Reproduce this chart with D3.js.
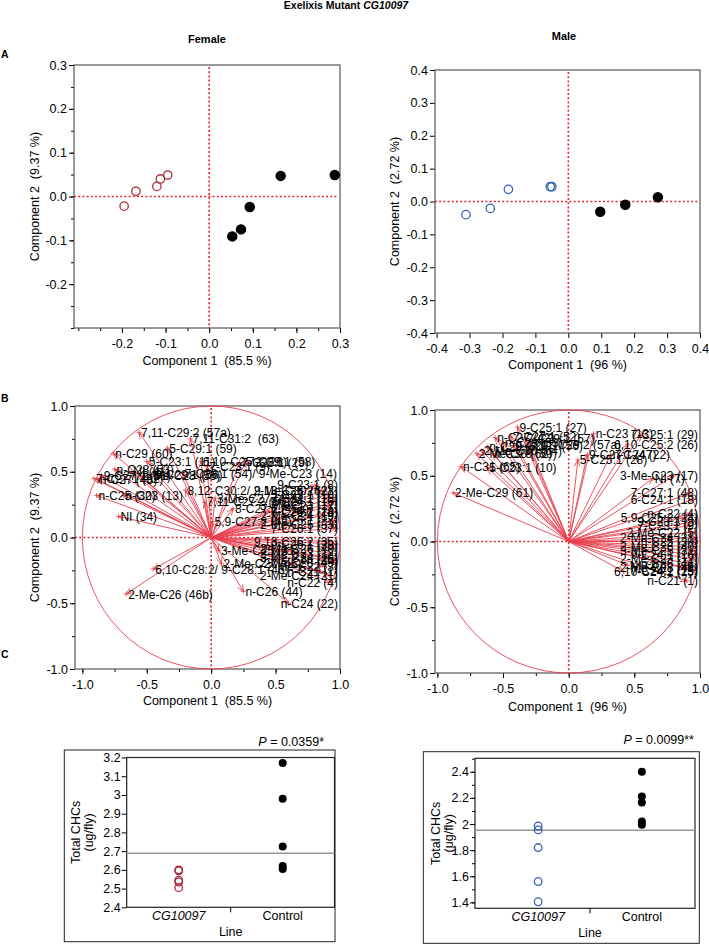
<!DOCTYPE html>
<html><head><meta charset="utf-8">
<script src="https://cdn.jsdelivr.net/npm/d3@7"></script>
<style>
body{margin:0;background:#fff}
svg{display:block}
text{font-family:"Liberation Sans",Arial,sans-serif;white-space:pre}
</style>
</head><body>
<script>
// ---------------- DATA ----------------
// Panel A: PCA scores
const femaleMutantPC1 = [-0.195, -0.168, -0.120, -0.112, -0.095];
const femaleMutantPC2 = [-0.022, 0.012, 0.023, 0.040, 0.049];
const femaleControlPC1 = [0.053, 0.073, 0.093, 0.164, 0.288];
const femaleControlPC2 = [-0.091, -0.075, -0.024, 0.047, 0.049];
const maleMutantPC1 = [-0.311, -0.237, -0.182, -0.055, -0.050];
const maleMutantPC2 = [-0.040, -0.021, 0.037, 0.045, 0.045];
const maleControlPC1 = [0.097, 0.173, 0.272];
const maleControlPC2 = [-0.031, -0.010, 0.013];

// Panel B: loadings
const femaleLoadingNames = [
 "7,11-C29:2 (57a)","7,11-C31:2  (63)","5-C29:1 (59)","n-C29 (60)","5-C23:1 (11)","6,10-C25:2 (26)",
 "7-C23:1 (9)","7-C25:1 (29)","7-C29:1 (58)","7-C28:1 (54)/ 9-Me-C23 (14)","n-C28 (53)","9-C27:1 (51)",
 "7-C27:1 (52)","n-C27 (48)","NI (41)","2-Me-C28 (55)","9-C29:1 (56)","8,12-C30:2/ 2-Me-C30 (62)",
 "n-C25 (30)","n-C23 (13)","NI (34)","7,11-C27:2 (50)","3-Me-C27 (45a)","8-C27:1 (46a)","5,9-C27:2 (43)",
 "9-C23:1 (8)","9,13-C25:2 (23)","5-C23:1 (10)","7-C24:1 (15)","9-C24:1 (16)","3-Me-C23 (17)",
 "6-C24:1 (18)","2-Me-C24 (19)","9-C25:1 (27)","2-Me-C25 (33)","7-C26:1 (37)","7-C25:2 (24)",
 "9,13-C26:2 (35)","9-C26:1 (38)","2-Me-C26 (40)","3-Me-C25 (31)","2-Me-C23 (12)","3-Me-C24 (20)",
 "NI (25)","2-Me-C28 (49)","2-Me-C27 (45)","6,10-C28:2/ 9-C28:1 (46)","2-Me-C22 (3)","n-C21 (1)",
 "2-Me-C24 (21)","n-C22 (4)","n-C26 (44)","n-C24 (22)","2-Me-C26 (46b)"
];
const femaleLoadingX = [
 -0.56,-0.16,-0.34,-0.76,-0.50,-0.08,
 -0.03,0.22,0.27,-0.22,-0.75,-0.85,
 -0.91,-0.88,-0.62,-0.55,-0.45,-0.20,
 -0.89,-0.68,-0.72,-0.05,0.03,0.17,0.01,
 0.82,0.86,0.90,0.93,0.95,0.92,
 0.95,0.88,0.96,0.95,0.97,0.45,
 0.93,0.97,0.95,0.06,0.93,0.90,
 0.96,0.95,0.08,-0.45,0.88,0.85,
 0.92,0.93,0.25,0.60,-0.66
];
const femaleLoadingY = [
 0.80,0.75,0.68,0.64,0.58,0.58,
 0.54,0.57,0.58,0.49,0.52,0.47,
 0.45,0.44,0.50,0.47,0.48,0.36,
 0.32,0.32,0.16,0.27,0.30,0.22,0.12,
 0.40,0.36,0.33,0.30,0.27,0.24,
 0.20,0.17,0.13,0.10,0.07,0.20,
 -0.03,-0.05,-0.08,-0.10,-0.12,-0.15,
 -0.17,-0.19,-0.20,-0.24,-0.22,-0.26,
 -0.29,-0.34,-0.41,-0.50,-0.43
];
const maleLoadingNames = [
 "9-C25:1 (27)","n-C27 (42)","7-C27:1 (52)","7-C29:1 (57)","n-C28 (53)","9-C29:1 (56)","n-C29 (60)",
 "2-Me-C28 (50)","n-C30 (62)","n-C31 (65)","5-C23:1 (10)","2-Me-C29 (61)","2-Me-C30 (64)","7,11-C29:2 (57a)",
 "n-C23 (13)","7-C25:1 (29)","6,10-C25:2 (26)","9-C27:1 (47)","n-C24 (22)","5-C25:1 (28)",
 "3-Me-C23 (17)","NI (7)","7-C27:1 (48)","6-C24:1 (18)","n-C22 (4)","5,9-C25:2 (24)","9-C23:1 (8)",
 "7-C23:1 (9)","2-Me-C22 (5)","2-Me-C24 (21)","n-C25 (30)","2-Me-C26 (40)","3-Me-C25 (31)","9-C24:1 (16)",
 "2-Me-C23 (12)","n-C26 (44)","NI (20)","2-Me-C28 (49)","6,10-C24:2 (25)","7-C24:1 (15)","n-C21 (1)"
];
const maleLoadingX = [
 -0.39,-0.56,-0.44,-0.33,-0.50,-0.42,-0.62,
 -0.70,-0.58,-0.82,-0.62,-0.88,-0.66,-0.30,
 0.19,0.55,0.45,0.14,0.32,0.07,
 0.80,0.64,0.92,0.95,0.93,0.88,0.95,
 0.92,0.96,0.97,0.98,0.97,0.96,0.97,
 0.95,0.93,0.45,0.90,0.42,0.96,0.90
];
const maleLoadingY = [
 0.87,0.79,0.80,0.78,0.75,0.73,0.72,
 0.67,0.67,0.57,0.56,0.37,0.69,0.74,
 0.82,0.81,0.74,0.66,0.66,0.62,
 0.50,0.48,0.37,0.32,0.21,0.18,0.15,
 0.12,0.07,0.03,0.00,-0.04,-0.07,-0.10,
 -0.13,-0.17,-0.18,-0.20,-0.23,-0.22,-0.30
];

// Panel C: total CHCs (ug/fly)
const lines = ["CG10097", "Control"];
const femaleTotalMutant = [2.600, 2.595, 2.545, 2.535, 2.505];
const femaleTotalControl = [3.170, 2.980, 2.725, 2.620, 2.605];
const maleTotalMutant = [1.985, 1.955, 1.820, 1.560, 1.405];
const maleTotalControl = [2.400, 2.210, 2.165, 2.020, 1.995];
const femaleP = "0.0359*";
const maleP = "0.0099**";

// ---------------- STYLE ----------------
const RED_DOT = "#e3242f";
const ARROW = "#e8404e";
const FEMALE_COL = "#a82d38";
const MALE_COL = "#3560b5";

const W = 709, H = 945;
const svg = d3.select("body").append("svg").attr("width", W).attr("height", H);

const fmt1 = d => d3.format(".1f")(d).replace("\u2212", "-");
const fmtC = d => String(+d.toFixed(1));

function styleAxis(g, fs) {
  g.select(".domain").remove();
  g.selectAll("text").attr("font-size", fs).attr("fill", "#000")
    .attr("font-family", "Liberation Sans, Arial, sans-serif");
  g.selectAll("line").attr("stroke", "#000");
}

function framePanel(o) {
  const x = d3.scaleLinear().domain(o.xDomain).range([o.left, o.right]);
  const y = d3.scaleLinear().domain(o.yDomain).range([o.bottom, o.top]);
  const g = svg.append("g");
  // minor ticks
  if (o.xMinor) g.append("g").attr("transform", `translate(0,${o.bottom})`)
    .call(d3.axisBottom(x).tickValues(o.xMinor).tickSize(3).tickFormat("")).call(a => styleAxis(a, 12));
  if (o.yMinor) g.append("g").attr("transform", `translate(${o.left},0)`)
    .call(d3.axisLeft(y).tickValues(o.yMinor).tickSize(3).tickFormat("")).call(a => styleAxis(a, 12));
  g.append("g").attr("transform", `translate(0,${o.bottom})`)
    .call(d3.axisBottom(x).tickValues(o.xMajor).tickSize(5).tickPadding(6).tickFormat(fmt1)).call(a => styleAxis(a, 12.5));
  g.append("g").attr("transform", `translate(${o.left},0)`)
    .call(d3.axisLeft(y).tickValues(o.yMajor).tickSize(5).tickPadding(2).tickFormat(fmt1)).call(a => styleAxis(a, 12.5));
  g.append("rect").attr("x", o.left).attr("y", o.top).attr("width", o.right - o.left).attr("height", o.bottom - o.top)
    .attr("fill", "none").attr("stroke", "#555").attr("stroke-width", 1.2);
  // reference dotted lines
  g.append("line").attr("x1", x(0)).attr("x2", x(0)).attr("y1", o.top + 2).attr("y2", o.bottom)
    .attr("stroke", RED_DOT).attr("stroke-width", 1.6).attr("stroke-dasharray", "2,2.2");
  g.append("line").attr("x1", o.left).attr("x2", o.right - 2).attr("y1", y(0)).attr("y2", y(0))
    .attr("stroke", RED_DOT).attr("stroke-width", 1.6).attr("stroke-dasharray", "2,2.2");
  // titles
  g.append("text").attr("x", (o.left + o.right) / 2).attr("y", o.xTitleY).attr("text-anchor", "middle")
    .attr("font-size", 12.5).text(o.xTitle);
  g.append("text").attr("transform", `translate(${o.yTitleX},${(o.top + o.bottom) / 2}) rotate(-90)`)
    .attr("text-anchor", "middle").attr("dy", "0.35em").attr("font-size", 12.5).text(o.yTitle);
  return {x, y, g};
}

function scores(p, xs, ys, color, filled) {
  p.g.append("g").selectAll("circle").data(xs).join("circle")
    .attr("cx", d => p.x(d)).attr("cy", (d, i) => p.y(ys[i])).attr("r", filled ? 4.6 : 4.2)
    .attr("fill", filled ? "#000" : "none").attr("stroke", filled ? "#000" : color).attr("stroke-width", 1.3);
}

function loadings(p, names, xs, ys, right) {
  const ox = p.x(0), oy = p.y(0);
  p.g.append("ellipse").attr("cx", ox).attr("cy", oy)
    .attr("rx", p.x(1) - ox).attr("ry", oy - p.y(1))
    .attr("fill", "none").attr("stroke", ARROW).attr("stroke-width", 0.9);
  const ga = p.g.append("g").attr("stroke", ARROW).attr("stroke-width", 0.9).attr("fill", "none");
  const gt = p.g.append("g");
  names.forEach((nm, i) => {
    const tx = p.x(xs[i]), ty = p.y(ys[i]);
    const ang = Math.atan2(ty - oy, tx - ox), L = 7, a = 0.42;
    ga.append("line").attr("x1", ox).attr("y1", oy).attr("x2", tx).attr("y2", ty);
    ga.append("path").attr("d",
      `M${tx - L * Math.cos(ang - a)},${ty - L * Math.sin(ang - a)}L${tx},${ty}L${tx - L * Math.cos(ang + a)},${ty - L * Math.sin(ang + a)}`);
    ga.append("path").attr("d", `M${tx - 2.5},${ty}h5M${tx},${ty - 2.5}v5`).attr("stroke-width", 0.8);
    const t = gt.append("text").attr("x", tx + 2).attr("y", ty + 4.5).attr("font-size", 12).attr("fill", "#000").text(nm);
    const len = t.node().getComputedTextLength();
    if (tx + 2 + len > right - 2) t.attr("x", right - 2 - len);
  });
}

// ---------------- TITLES ----------------
const title = svg.append("text").attr("x", 346).attr("y", 9).attr("text-anchor", "middle")
  .attr("font-size", 10.5).attr("font-weight", "bold");
title.append("tspan").text("Exelixis Mutant ");
title.append("tspan").attr("font-style", "italic").text("CG10097");
svg.append("text").attr("x", 207).attr("y", 43).attr("text-anchor", "middle").attr("font-size", 11).attr("font-weight", "bold").text("Female");
svg.append("text").attr("x", 564).attr("y", 40).attr("text-anchor", "middle").attr("font-size", 11).attr("font-weight", "bold").text("Male");
[["A", 58], ["B", 402], ["C", 658]].forEach(([l, yy]) =>
  svg.append("text").attr("x", 1).attr("y", yy).attr("font-size", 10.5).attr("font-weight", "bold").text(l));

// ---------------- PANEL A ----------------
const range = (a, b, s) => d3.range(Math.round(a / s), Math.round(b / s) + 1).map(k => +(k * s).toFixed(3));
const fA = framePanel({left: 74, right: 340, top: 65, bottom: 328, xDomain: [-0.31, 0.3], yDomain: [-0.3, 0.3],
  xMajor: range(-0.2, 0.3, 0.1), yMajor: range(-0.2, 0.3, 0.1),
  xMinor: range(-0.3, 0.3, 0.05), yMinor: range(-0.3, 0.3, 0.05),
  xTitle: "Component 1  (85.5 %)", xTitleY: 365, yTitle: "Component 2  (9.37 %)", yTitleX: 35});
scores(fA, femaleMutantPC1, femaleMutantPC2, FEMALE_COL, false);
scores(fA, femaleControlPC1, femaleControlPC2, "#000", true);

const mA = framePanel({left: 435, right: 700, top: 70, bottom: 333, xDomain: [-0.405, 0.4], yDomain: [-0.4, 0.4],
  xMajor: range(-0.4, 0.4, 0.1), yMajor: range(-0.4, 0.4, 0.1),
  xTitle: "Component 1  (96 %)", xTitleY: 369, yTitle: "Component 2  (2.72 %)", yTitleX: 395});
scores(mA, maleMutantPC1, maleMutantPC2, MALE_COL, false);
scores(mA, maleControlPC1, maleControlPC2, "#000", true);

// ---------------- PANEL B ----------------
const fB = framePanel({left: 75, right: 340, top: 406, bottom: 669, xDomain: [-1.057, 1.0], yDomain: [-1, 1],
  xMajor: range(-1, 1, 0.5), yMajor: range(-1, 1, 0.5), xMinor: range(-1, 1, 0.25), yMinor: range(-1, 1, 0.25),
  xTitle: "Component 1  (85.5 %)", xTitleY: 705, yTitle: "Component 2  (9.37 %)", yTitleX: 35});
loadings(fB, femaleLoadingNames, femaleLoadingX, femaleLoadingY, 340);

const mB = framePanel({left: 435, right: 700, top: 410, bottom: 673, xDomain: [-1.018, 1.0], yDomain: [-1, 1],
  xMajor: range(-1, 1, 0.5), yMajor: range(-1, 1, 0.5), xMinor: range(-1, 1, 0.25), yMinor: range(-1, 1, 0.25),
  xTitle: "Component 1  (96 %)", xTitleY: 711, yTitle: "Component 2  (2.72 %)", yTitleX: 395});
loadings(mB, maleLoadingNames, maleLoadingX, maleLoadingY, 700);

// ---------------- PANEL C ----------------
function totals(o) {
  const g = svg.append("g");
  g.append("rect").attr("x", o.box[0]).attr("y", o.box[1]).attr("width", o.box[2] - o.box[0]).attr("height", o.box[3] - o.box[1])
    .attr("fill", "none").attr("stroke", "#222").attr("stroke-width", 1);
  const x = d3.scaleBand().domain(lines).range(o.xRange);
  const y = d3.scaleLinear().domain(o.yDomain).range([o.bottom, o.top]);
  if (o.yMinor) g.append("g").attr("transform", `translate(${o.left},0)`)
    .call(d3.axisLeft(y).tickValues(o.yMinor).tickSize(3).tickFormat("")).call(a => styleAxis(a, 12));
  g.append("g").attr("transform", `translate(${o.left},0)`)
    .call(d3.axisLeft(y).tickValues(o.yTicks).tickSize(5).tickPadding(1).tickFormat(fmtC)).call(a => styleAxis(a, 12.5));
  g.append("rect").attr("x", o.left).attr("y", o.top).attr("width", o.right - o.left).attr("height", o.bottom - o.top)
    .attr("fill", "none").attr("stroke", "#222").attr("stroke-width", 1.2);
  // separator tick
  const sep = (x(lines[0]) + x.bandwidth() + x(lines[1])) / 2;
  g.append("line").attr("x1", sep).attr("x2", sep).attr("y1", o.bottom).attr("y2", o.bottom + 5).attr("stroke", "#000");
  lines.forEach((l, i) => g.append("text").attr("x", x(l) + x.bandwidth() / 2).attr("y", o.bottom + 12.5)
    .attr("text-anchor", "middle").attr("font-size", 12.5).attr("font-style", i === 0 ? "italic" : "normal").text(l));
  g.append("text").attr("x", sep).attr("y", o.bottom + 29).attr("text-anchor", "middle").attr("font-size", 12.5).text("Line");
  const yc = (o.top + o.bottom) / 2;
  g.append("text").attr("transform", `translate(${o.yTitleX},${yc}) rotate(-90)`).attr("text-anchor", "middle")
    .attr("dy", "0.35em").attr("font-size", 12.5).text("Total CHCs");
  g.append("text").attr("transform", `translate(${o.yTitleX + 12.5},${yc}) rotate(-90)`).attr("text-anchor", "middle")
    .attr("dy", "0.35em").attr("font-size", 12.5).text("(ug/fly)");
  // mean line
  const mean = d3.mean(o.mut.concat(o.ctrl));
  g.append("line").attr("x1", o.left).attr("x2", o.right).attr("y1", y(mean)).attr("y2", y(mean))
    .attr("stroke", "#999").attr("stroke-width", 1.5);
  const cx0 = x(lines[0]) + x.bandwidth() / 2, cx1 = x(lines[1]) + x.bandwidth() / 2;
  g.append("g").selectAll("circle").data(o.mut).join("circle").attr("cx", cx0).attr("cy", d => y(d)).attr("r", 3.8)
    .attr("fill", "none").attr("stroke", o.color).attr("stroke-width", 1.3);
  g.append("g").selectAll("circle").data(o.ctrl).join("circle").attr("cx", cx1).attr("cy", d => y(d)).attr("r", 4)
    .attr("fill", "#000");
  const pt = g.append("text").attr("x", o.pX).attr("y", o.pY).attr("text-anchor", "end").attr("font-size", 12.5);
  pt.append("tspan").attr("font-style", "italic").text("P");
  pt.append("tspan").text(" = " + o.p);
}
totals({box: [64.3, 750, 335, 941.7], left: 126.7, right: 334.5, top: 757.5, bottom: 907.3, xRange: [126.7, 334.7],
  yDomain: [2.4, 3.2], yTicks: range(2.4, 3.2, 0.1), mut: femaleTotalMutant, ctrl: femaleTotalControl,
  color: FEMALE_COL, yTitleX: 76, pX: 324, pY: 746, p: femaleP});
totals({box: [423.3, 751.7, 699.3, 943.3], left: 475, right: 695, top: 758.3, bottom: 908.3, xRange: [486.3, 693.7],
  yDomain: [1.355, 2.503], yTicks: range(1.4, 2.4, 0.2), yMinor: range(1.4, 2.5, 0.1), mut: maleTotalMutant, ctrl: maleTotalControl,
  color: MALE_COL, yTitleX: 436, pX: 694, pY: 744, p: maleP});
</script>
</body></html>
